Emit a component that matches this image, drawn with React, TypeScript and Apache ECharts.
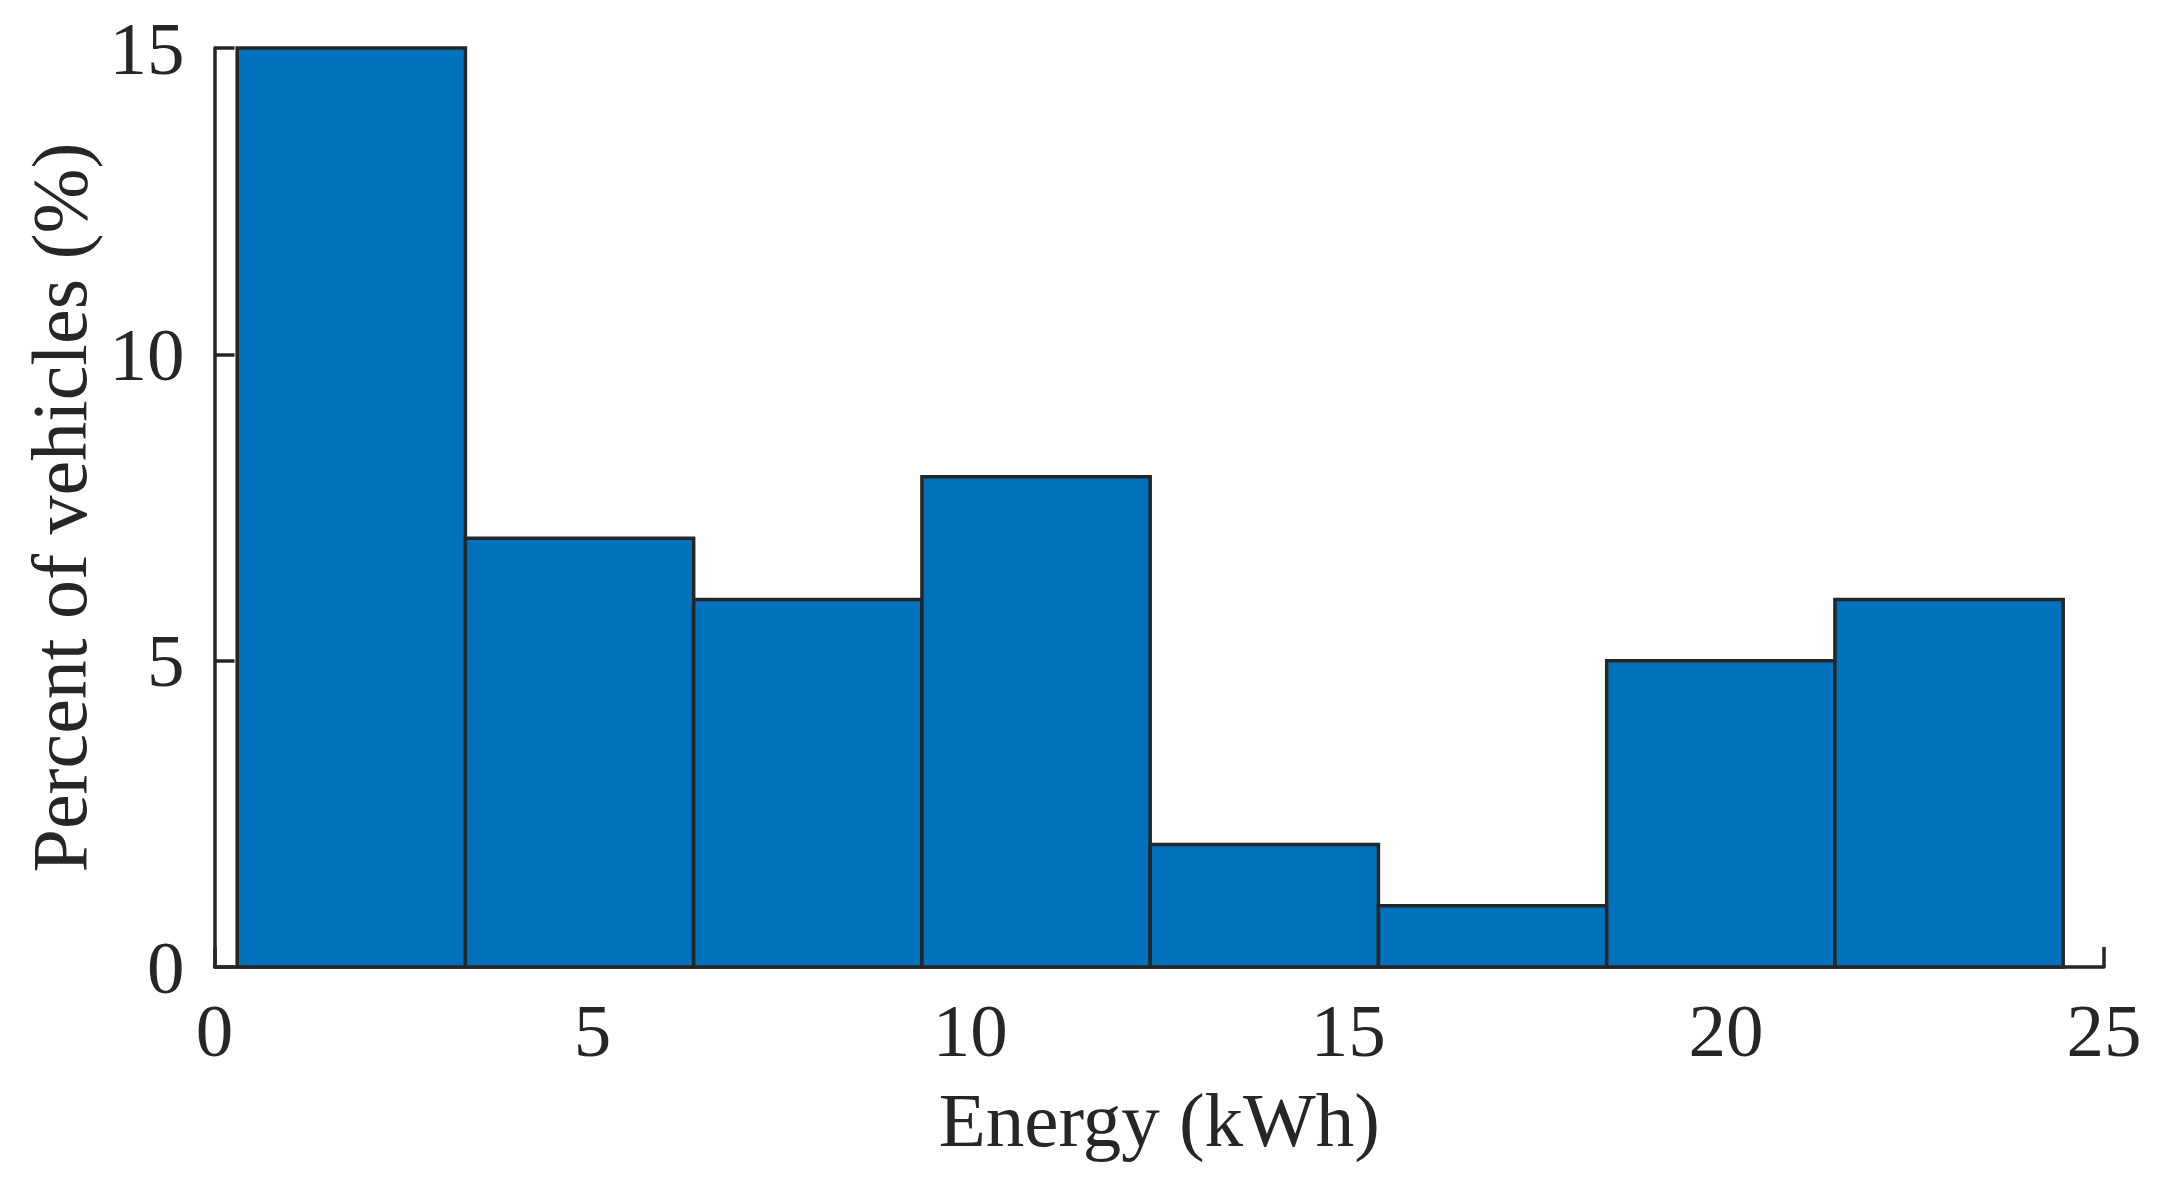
import React, { useEffect, useRef } from "react";
import * as echarts from "echarts";

const binEdges = [0.3, 3.32, 6.34, 9.36, 12.38, 15.4, 18.42, 21.44, 24.46];
const percents = [15, 7, 6, 8, 2, 1, 5, 6];
const xTicks = [0, 5, 10, 15, 20, 25];
const yTicks = [0, 5, 10, 15];

const FONT = "'Liberation Serif', 'Times New Roman', serif";
const INK = "#262626";

export default function App() {
  const ref = useRef<HTMLDivElement>(null);
  useEffect(() => {
    if (!ref.current) return;
    const chart = echarts.init(ref.current, undefined, { renderer: "svg" });
    const data = percents.map((v, i) => [binEdges[i], binEdges[i + 1], v]);
    chart.setOption({
      animation: false,
      backgroundColor: "#ffffff",
      grid: { left: 214.5, right: 64, top: 48, bottom: 219, containLabel: false },
      xAxis: {
        type: "value",
        min: xTicks[0],
        max: xTicks[xTicks.length - 1],
        interval: 5,
        name: "Energy (kWh)",
        nameLocation: "middle",
        nameGap: 114,
        nameTextStyle: { fontFamily: FONT, fontSize: 77, color: INK },
        axisLine: { show: true, lineStyle: { color: INK, width: 3.5 } },
        axisTick: { show: true, inside: true, length: 20, lineStyle: { color: INK, width: 3.5 } },
        axisLabel: { fontFamily: FONT, fontSize: 75, color: INK, margin: 26 },
        splitLine: { show: false },
      },
      yAxis: {
        type: "value",
        min: yTicks[0],
        max: yTicks[yTicks.length - 1],
        interval: 5,
        name: "Percent of vehicles (%)",
        nameLocation: "middle",
        nameGap: 110,
        nameTextStyle: { fontFamily: FONT, fontSize: 78, color: INK },
        axisLine: { show: true, lineStyle: { color: INK, width: 3.5 } },
        axisTick: { show: true, inside: true, length: 20, lineStyle: { color: INK, width: 3.5 } },
        axisLabel: { fontFamily: FONT, fontSize: 75, color: INK, margin: 30 },
        splitLine: { show: false },
      },
      series: [
        {
          type: "custom",
          data,
          encode: { x: [0, 1], y: 2 },
          renderItem: (params: any, api: any) => {
            const p0 = api.coord([api.value(0), api.value(2)]);
            const p1 = api.coord([api.value(1), 0]);
            return {
              type: "rect",
              shape: { x: p0[0], y: p0[1], width: p1[0] - p0[0], height: p1[1] - p0[1] },
              style: { fill: "#0072BD", stroke: INK, lineWidth: 3.5 },
            };
          },
        },
      ],
    });
    return () => chart.dispose();
  }, []);
  return (
    <div
      ref={ref}
      style={{ position: "fixed", left: 0, top: 0, width: 2168, height: 1186, background: "#fff" }}
    />
  );
}
